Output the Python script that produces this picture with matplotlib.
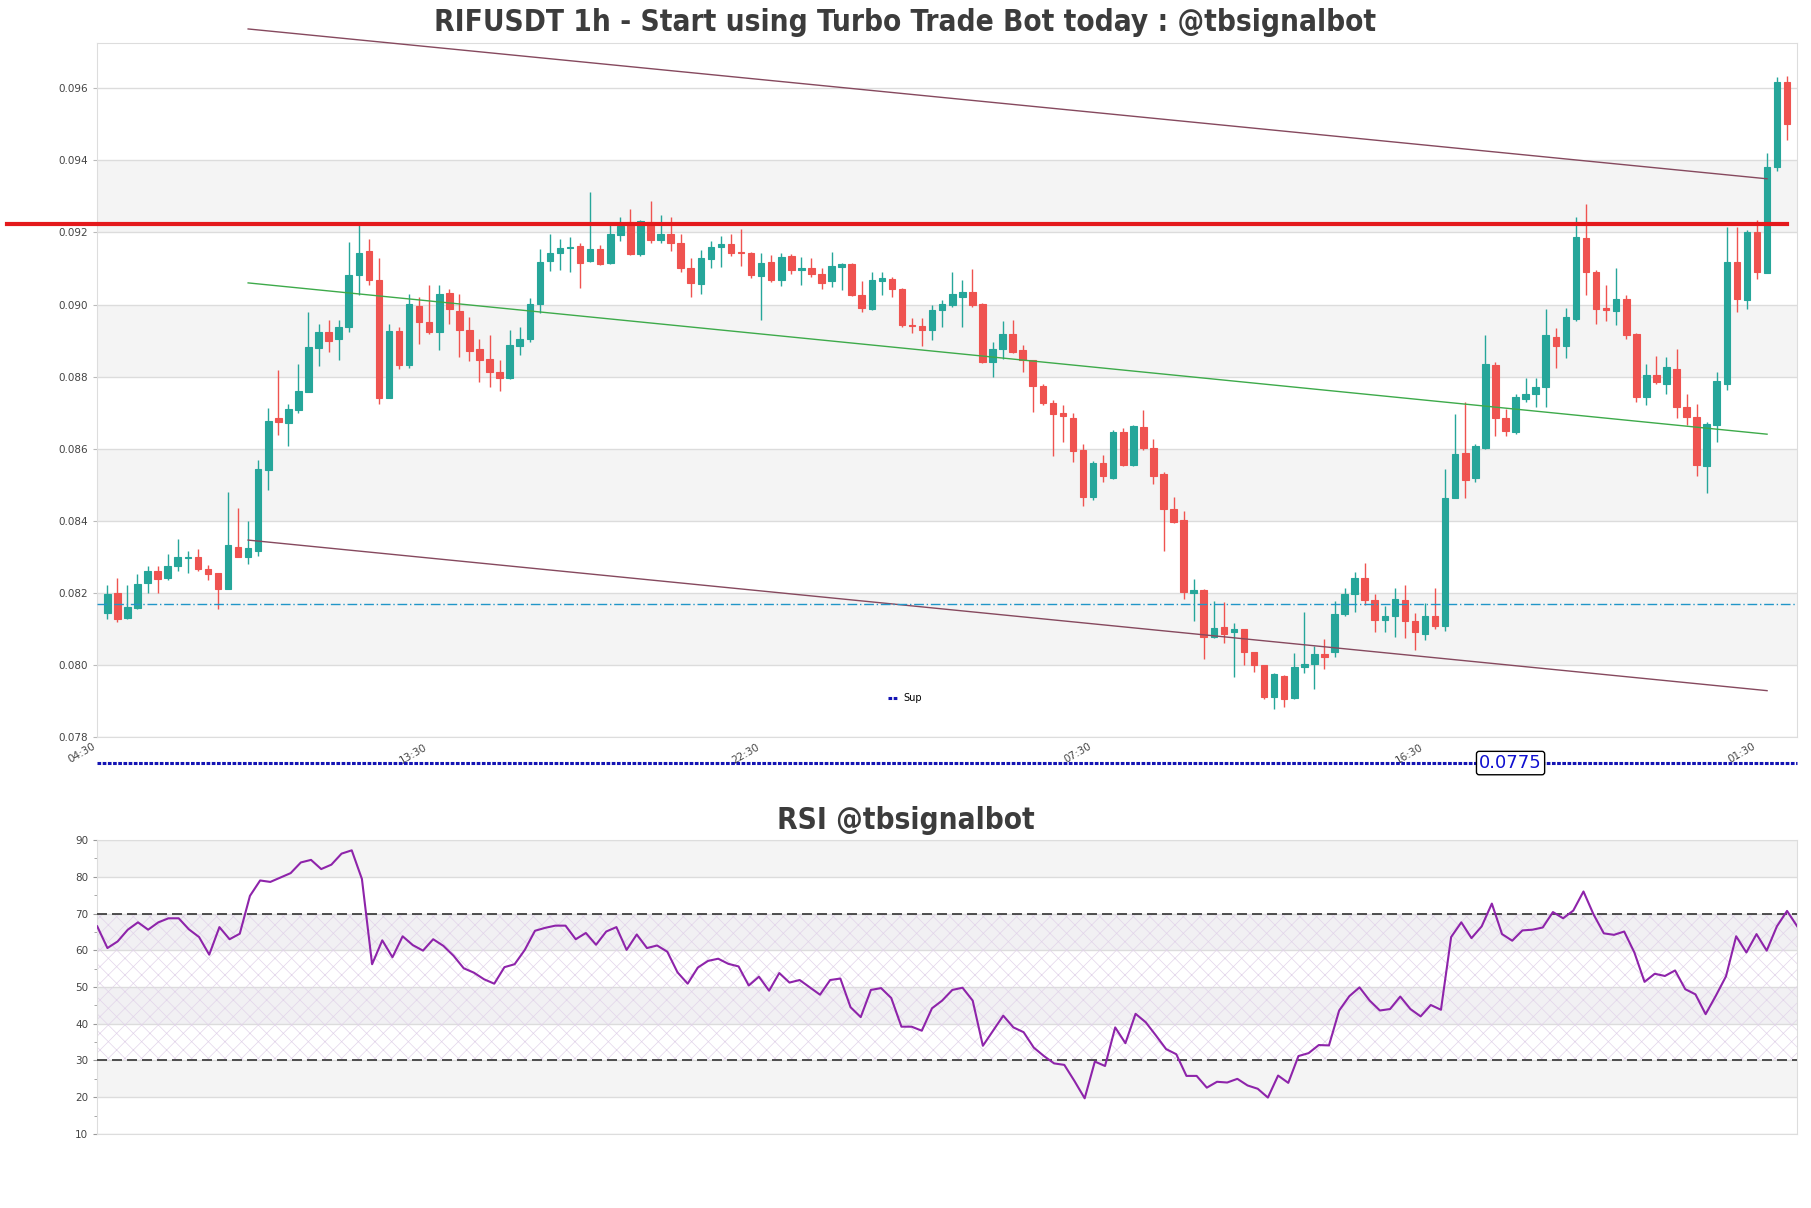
import numpy as np
import matplotlib
matplotlib.use("Agg")
import matplotlib.pyplot as plt

opens = [0.08143, 0.08200, 0.08131, 0.08158, 0.08226, 0.08261, 0.08242, 0.08273, 0.08297, 0.08300,
         0.08267, 0.08254, 0.08211, 0.08328, 0.08298, 0.08317, 0.08540, 0.08685, 0.08671, 0.08707,
         0.08758, 0.08879, 0.08924, 0.08903, 0.08937, 0.09081, 0.09149, 0.09069, 0.08740, 0.08926,
         0.08833, 0.08995, 0.08951, 0.08924, 0.09033, 0.08982, 0.08930, 0.08877, 0.08849, 0.08812,
         0.08795, 0.08886, 0.08905, 0.09001, 0.09120, 0.09144, 0.09158, 0.09163, 0.09120, 0.09153,
         0.09116, 0.09193, 0.09228, 0.09140, 0.09230, 0.09178, 0.09195, 0.09171, 0.09102, 0.09056,
         0.09126, 0.09160, 0.09167, 0.09146, 0.09142, 0.09080, 0.09118, 0.09069, 0.09135, 0.09095,
         0.09100, 0.09086, 0.09065, 0.09104, 0.09112, 0.09026, 0.08988, 0.09065, 0.09072, 0.09044,
         0.08942, 0.08940, 0.08928, 0.08986, 0.09000, 0.09020, 0.09035, 0.09002, 0.08840, 0.08877,
         0.08919, 0.08873, 0.08845, 0.08775, 0.08727, 0.08699, 0.08685, 0.08596, 0.08466, 0.08560,
         0.08518, 0.08647, 0.08555, 0.08659, 0.08601, 0.08529, 0.08431, 0.08401, 0.08199, 0.08207,
         0.08077, 0.08105, 0.08090, 0.08099, 0.08035, 0.07998, 0.07911, 0.07970, 0.07907, 0.07995,
         0.08001, 0.08030, 0.08035, 0.08140, 0.08197, 0.08241, 0.08181, 0.08125, 0.08134, 0.08181,
         0.08120, 0.08084, 0.08134, 0.08107, 0.08462, 0.08588, 0.08518, 0.08601, 0.08831, 0.08685,
         0.08647, 0.08738, 0.08752, 0.08772, 0.08910, 0.08886, 0.08959, 0.09186, 0.09089, 0.08990,
         0.08982, 0.09016, 0.08918, 0.08742, 0.08803, 0.08779, 0.08821, 0.08715, 0.08687, 0.08552,
         0.08666, 0.08780, 0.09117, 0.09012, 0.09202, 0.09087, 0.09381, 0.09617]
highs = [0.08220, 0.08242, 0.08220, 0.08253, 0.08273, 0.08273, 0.08306, 0.08348, 0.08317, 0.08320,
         0.08278, 0.08256, 0.08479, 0.08434, 0.08398, 0.08568, 0.08713, 0.08817, 0.08724, 0.08835,
         0.08979, 0.08947, 0.08956, 0.08956, 0.09174, 0.09230, 0.09181, 0.09128, 0.08947, 0.08937,
         0.09030, 0.09021, 0.09053, 0.09053, 0.09044, 0.09030, 0.08965, 0.08905, 0.08916, 0.08847,
         0.08928, 0.08937, 0.09018, 0.09153, 0.09197, 0.09182, 0.09188, 0.09171, 0.09312, 0.09165,
         0.09228, 0.09244, 0.09265, 0.09234, 0.09287, 0.09248, 0.09244, 0.09197, 0.09130, 0.09151,
         0.09176, 0.09190, 0.09195, 0.09211, 0.09146, 0.09142, 0.09137, 0.09144, 0.09140, 0.09132,
         0.09130, 0.09102, 0.09146, 0.09116, 0.09114, 0.09065, 0.09091, 0.09091, 0.09077, 0.09046,
         0.08962, 0.08962, 0.08998, 0.09012, 0.09089, 0.09067, 0.09099, 0.09004, 0.08897, 0.08953,
         0.08956, 0.08888, 0.08847, 0.08778, 0.08735, 0.08720, 0.08700, 0.08612, 0.08565, 0.08582,
         0.08652, 0.08656, 0.08665, 0.08707, 0.08626, 0.08534, 0.08467, 0.08427, 0.08239, 0.08210,
         0.08178, 0.08174, 0.08116, 0.08100, 0.08036, 0.07999, 0.07977, 0.07972, 0.08032, 0.08145,
         0.08051, 0.08072, 0.08178, 0.08213, 0.08258, 0.08283, 0.08195, 0.08164, 0.08213, 0.08220,
         0.08144, 0.08170, 0.08213, 0.08543, 0.08696, 0.08730, 0.08614, 0.08914, 0.08840, 0.08710,
         0.08752, 0.08795, 0.08795, 0.08988, 0.08935, 0.08990, 0.09244, 0.09278, 0.09095, 0.09053,
         0.09100, 0.09027, 0.08922, 0.08835, 0.08858, 0.08854, 0.08877, 0.08752, 0.08725, 0.08675,
         0.08814, 0.09216, 0.09216, 0.09207, 0.09234, 0.09420, 0.09631, 0.09634]
lows = [0.08128, 0.08118, 0.08128, 0.08156, 0.08200, 0.08200, 0.08236, 0.08261, 0.08256, 0.08259,
        0.08236, 0.08156, 0.08211, 0.08298, 0.08281, 0.08301, 0.08484, 0.08637, 0.08607, 0.08700,
        0.08756, 0.08828, 0.08868, 0.08847, 0.08925, 0.09026, 0.09053, 0.08724, 0.08740, 0.08821,
        0.08823, 0.08891, 0.08919, 0.08875, 0.08947, 0.08854, 0.08843, 0.08784, 0.08772, 0.08761,
        0.08792, 0.08861, 0.08896, 0.08977, 0.09093, 0.09095, 0.09090, 0.09046, 0.09118, 0.09110,
        0.09112, 0.09176, 0.09138, 0.09135, 0.09171, 0.09170, 0.09149, 0.09091, 0.09021, 0.09028,
        0.09102, 0.09104, 0.09134, 0.09106, 0.09074, 0.08956, 0.09063, 0.09052, 0.09086, 0.09053,
        0.09077, 0.09042, 0.09049, 0.09041, 0.09023, 0.08979, 0.08985, 0.09026, 0.09021, 0.08937,
        0.08921, 0.08886, 0.08902, 0.08937, 0.08993, 0.08937, 0.08993, 0.08838, 0.08800, 0.08849,
        0.08866, 0.08814, 0.08701, 0.08720, 0.08580, 0.08619, 0.08563, 0.08441, 0.08457, 0.08508,
        0.08515, 0.08552, 0.08552, 0.08595, 0.08503, 0.08317, 0.08394, 0.08183, 0.08120, 0.08017,
        0.08073, 0.08059, 0.07965, 0.07999, 0.07981, 0.07905, 0.07876, 0.07884, 0.07905, 0.07976,
        0.07932, 0.07988, 0.08022, 0.08134, 0.08145, 0.08167, 0.08091, 0.08091, 0.08077, 0.08074,
        0.08041, 0.08069, 0.08098, 0.08094, 0.08462, 0.08462, 0.08506, 0.08598, 0.08636, 0.08636,
        0.08640, 0.08730, 0.08715, 0.08715, 0.08823, 0.08851, 0.08955, 0.09026, 0.08947, 0.08953,
        0.08942, 0.08905, 0.08730, 0.08720, 0.08780, 0.08752, 0.08684, 0.08666, 0.08524, 0.08476,
        0.08619, 0.08764, 0.08980, 0.08988, 0.09072, 0.09087, 0.09371, 0.09457]
closes = [0.08197, 0.08128, 0.08161, 0.08225, 0.08261, 0.08239, 0.08275, 0.08298, 0.08298, 0.08267,
          0.08251, 0.08211, 0.08331, 0.08298, 0.08323, 0.08543, 0.08677, 0.08674, 0.08710, 0.08761,
          0.08882, 0.08924, 0.08900, 0.08937, 0.09083, 0.09144, 0.09067, 0.08741, 0.08926, 0.08833,
          0.09002, 0.08951, 0.08925, 0.09029, 0.08987, 0.08928, 0.08872, 0.08847, 0.08814, 0.08797,
          0.08888, 0.08905, 0.09002, 0.09118, 0.09144, 0.09157, 0.09161, 0.09116, 0.09153, 0.09112,
          0.09195, 0.09217, 0.09140, 0.09231, 0.09180, 0.09195, 0.09171, 0.09102, 0.09060, 0.09130,
          0.09160, 0.09167, 0.09144, 0.09142, 0.09083, 0.09114, 0.09067, 0.09132, 0.09095, 0.09100,
          0.09086, 0.09061, 0.09106, 0.09112, 0.09026, 0.08990, 0.09069, 0.09074, 0.09042, 0.08942,
          0.08941, 0.08928, 0.08984, 0.09002, 0.09030, 0.09035, 0.09000, 0.08840, 0.08877, 0.08919,
          0.08868, 0.08847, 0.08775, 0.08727, 0.08696, 0.08690, 0.08594, 0.08466, 0.08560, 0.08524,
          0.08647, 0.08555, 0.08662, 0.08601, 0.08524, 0.08433, 0.08396, 0.08201, 0.08207, 0.08077,
          0.08102, 0.08084, 0.08099, 0.08035, 0.07998, 0.07910, 0.07974, 0.07905, 0.07995, 0.08001,
          0.08030, 0.08022, 0.08142, 0.08197, 0.08241, 0.08181, 0.08125, 0.08136, 0.08183, 0.08120,
          0.08090, 0.08134, 0.08107, 0.08462, 0.08585, 0.08513, 0.08606, 0.08835, 0.08684, 0.08650,
          0.08742, 0.08752, 0.08770, 0.08914, 0.08884, 0.08965, 0.09188, 0.09091, 0.08987, 0.08984,
          0.09016, 0.08914, 0.08742, 0.08803, 0.08786, 0.08826, 0.08715, 0.08687, 0.08555, 0.08668,
          0.08789, 0.09117, 0.09014, 0.09202, 0.09089, 0.09383, 0.09617, 0.09502]

rsi = [66.5, 60.6, 62.4, 65.6, 67.6, 65.6, 67.6, 68.7, 68.7, 65.7,
       63.6, 58.8, 66.3, 63.0, 64.5, 74.8, 79.0, 78.6, 79.8, 81.0,
       83.9, 84.6, 82.1, 83.3, 86.3, 87.2, 79.4, 56.2, 62.7, 58.1,
       63.8, 61.4, 59.9, 63.0, 61.2, 58.5, 55.1, 53.9, 52.1, 50.9,
       55.4, 56.2, 60.1, 65.3, 66.1, 66.7, 66.7, 63.0, 64.7, 61.5,
       65.1, 66.3, 60.1, 64.3, 60.6, 61.3, 59.6, 54.0, 50.9, 55.3,
       57.1, 57.7, 56.3, 55.6, 50.4, 52.8, 49.0, 53.8, 51.2, 51.9,
       49.9, 47.9, 51.9, 52.3, 44.5, 41.8, 49.2, 49.7, 47.0, 39.2,
       39.2, 38.1, 44.2, 46.3, 49.2, 49.8, 46.3, 34.0, 38.1, 42.2,
       39.0, 37.7, 33.5, 31.2, 29.2, 28.8, 24.4, 19.7, 29.7, 28.5,
       39.0, 34.7, 42.7, 40.4, 36.8, 33.1, 31.7, 25.8, 25.8, 22.6,
       24.2, 24.0, 25.0, 23.2, 22.3, 19.9, 25.9, 23.9, 31.2, 32.0,
       34.2, 34.1, 43.6, 47.5, 49.9, 46.3, 43.6, 44.0, 47.4, 44.0,
       42.0, 45.1, 43.8, 63.6, 67.6, 63.3, 66.5, 72.7, 64.4, 62.6,
       65.4, 65.6, 66.2, 70.4, 68.7, 70.8, 76.0, 69.7, 64.6, 64.2,
       65.1, 59.4, 51.4, 53.6, 53.0, 54.5, 49.4, 48.0, 42.6, 47.6,
       52.9, 63.8, 59.4, 64.4, 59.9, 66.5, 70.7, 66.5]

tick_pos = [-1, 32, 65, 98, 131, 164]
tick_labels = ['04:30', '13:30', '22:30', '07:30', '16:30', '01:30']

resistance = 0.09223
resistance_x = [-10, 167]
support_dash = 0.08169
sup_level = 0.07727
sup_text = '0.0775'
sup_text_x = 139.5
channel_x = [14, 165]
channel_upper = [0.09765, 0.09349]
channel_mid = [0.0906, 0.0864]
channel_lower = [0.08346, 0.07928]

up_col = '#26a69a'
down_col = '#ef5350'
band_col = '#f4f4f4'
grid_col = '#dcdcdc'
text_col = '#444444'

o = np.array(opens)
h = np.array(highs)
l = np.array(lows)
c = np.array(closes)
x = np.arange(len(o))
cols = np.where(c >= o, up_col, down_col)

fig = plt.figure(figsize=(18.11, 12.08), dpi=100)
ax = fig.add_axes([0.0537, 0.3901, 0.9387, 0.574])
ax2 = fig.add_axes([0.0537, 0.0613, 0.9387, 0.2433])

# price panel
ax.set_xlim(-1, len(o))
ax.set_ylim(0.078, 0.09725)
for lo in [0.080, 0.084, 0.088, 0.092]:
    ax.axhspan(lo, lo + 0.002, color=band_col, zorder=0, lw=0)
yt = np.arange(0.078, 0.0961, 0.002)
ax.set_yticks(yt)
ax.set_yticklabels(['%.3f' % v for v in yt])
ax.grid(axis='y', color=grid_col, lw=1, zorder=0.5)
ax.set_axisbelow(True)

ax.vlines(x, l, h, colors=cols, lw=1, zorder=2)
ax.bar(x, np.abs(c - o), 0.65, bottom=np.minimum(o, c), color=cols,
       edgecolor=cols, lw=0.8, zorder=3)

trend_col = '#86495e'
ax.plot(channel_x, channel_upper, color=trend_col, lw=1, clip_on=False, zorder=4)
ax.plot(channel_x, channel_lower, color=trend_col, lw=1, zorder=4)
ax.plot(channel_x, channel_mid, color='#3daa4a', lw=1, zorder=4)
ax.axhline(support_dash, color='#2196c8', lw=1, ls=(0, (7, 2, 1, 2)), zorder=4)
ax.plot(resistance_x, [resistance, resistance], color='#e4191c', lw=3, clip_on=False, zorder=5)
ax.axhline(sup_level, color='#1414b4', lw=2.2, ls=(0, (1.2, 0.5)), clip_on=False,
           label='Sup', zorder=5)
ax.text(sup_text_x, sup_level, sup_text, color='#1010d0', fontsize=13, ha='center', va='center',
        bbox=dict(boxstyle='round,pad=0.15', fc='white', ec='black', lw=1), zorder=6, clip_on=False)
leg = ax.legend(loc='center', bbox_to_anchor=(0.475, 0.056), frameon=False, fontsize=7,
                handlelength=1.0, handletextpad=0.6)

ax.set_xticks(tick_pos)
ax.set_xticklabels(tick_labels, rotation=30, ha='right')
ax.tick_params(axis='both', labelsize=7.5, colors=text_col, length=3, color='#bbbbbb')
ax.tick_params(axis='x', length=0)
for s in ax.spines.values():
    s.set_color('#dddddd')

# rsi panel
ax2.set_xlim(0, len(rsi) - 1)
ax2.set_ylim(10, 90)
for lo in [20, 80]:
    ax2.axhspan(lo, lo + 10, color=band_col, zorder=0, lw=0)
for lo in [40, 60]:
    ax2.axhspan(lo, lo + 10, color='#f1f0f3', zorder=0, lw=0)
plt.rcParams['hatch.linewidth'] = 0.5
ax2.fill_between([0, len(rsi) - 1], 30, 70, facecolor='none', hatch='xx',
                 edgecolor='#e2d4ea', lw=0, zorder=0.6)
ax2.set_yticks(range(10, 91, 10))
ax2.set_yticks(range(15, 90, 10), minor=True)
ax2.grid(axis='y', color=grid_col, lw=1, zorder=0.5)
ax2.set_axisbelow(True)
ax2.axhline(70, color='#333333', lw=1.2, ls=(0, (6, 3)), zorder=3)
ax2.axhline(30, color='#333333', lw=1.2, ls=(0, (6, 3)), zorder=3)
ax2.plot(range(len(rsi)), rsi, color='#8e24aa', lw=1.5, zorder=4)
ax2.set_xticks([])
ax2.tick_params(axis='y', labelsize=7.5, colors=text_col, length=3, color='#999999')
ax2.tick_params(axis='y', which='minor', length=2, color='#999999')
for s in ax2.spines.values():
    s.set_color('#dddddd')

fig.text(0.5, 0.981, 'RIFUSDT 1h - Start using Turbo Trade Bot today : @tbsignalbot',
         ha='center', va='center', fontsize=21.3, fontweight='bold', fontstretch='condensed',
         color='#3c3c3c')
fig.text(0.5, 0.3206, 'RSI @tbsignalbot', ha='center', va='center', fontsize=21.3,
         fontweight='bold', fontstretch='condensed', color='#3c3c3c')

fig.savefig('out.png', dpi=100)
